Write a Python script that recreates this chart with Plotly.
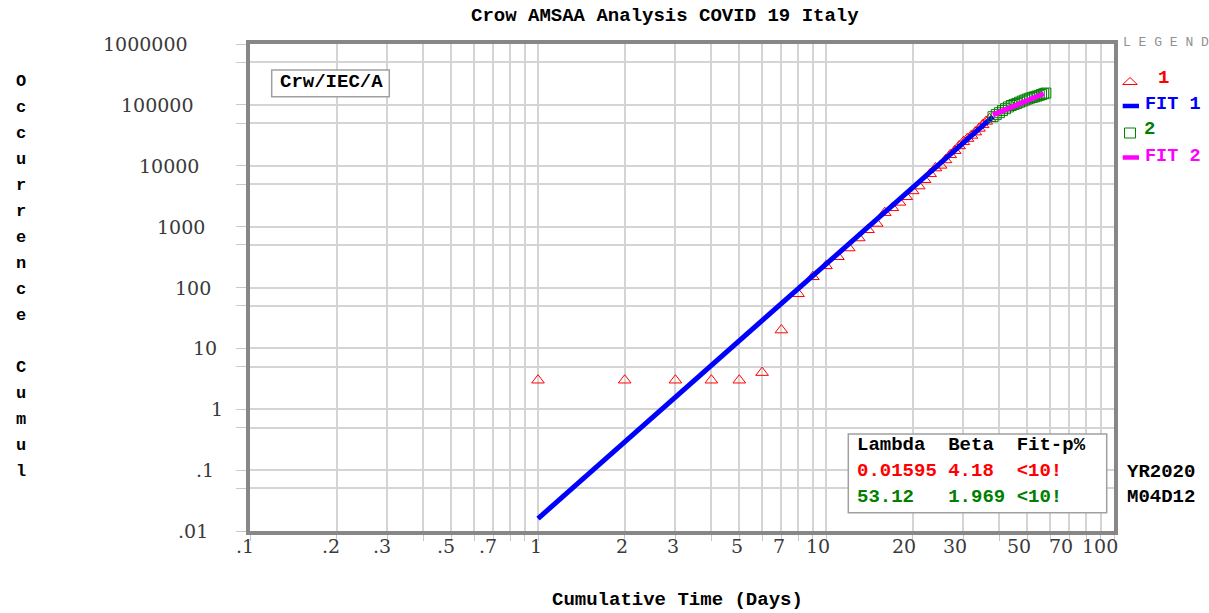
import plotly.graph_objects as go
import math

# ---------------- data ----------------
days1 = list(range(1, 38))
cum1 = [3, 3, 3, 3, 3, 4, 20, 79, 150, 227, 320, 445, 650, 888, 1128, 1694, 2036,
        2502, 3089, 3858, 4636, 5883, 7375, 9172, 10149, 12462, 15113, 17660,
        21157, 24747, 27980, 31506, 35713, 41035, 47021, 53578, 59138]
days2 = list(range(38, 59))
cum2 = [63927, 69176, 74386, 80589, 86498, 92472, 97689, 101739, 105792, 110574,
        115242, 119827, 124632, 128948, 132547, 135586, 139422, 143626, 147577,
        152271, 156363]
fit1_x = [1, 38]
fit1_y = [0.016, 64000]
fit2_x = [38, 57]
fit2_y = [68500, 152000]

x_tick_vals = [0.1, 0.2, 0.3, 0.5, 0.7, 1, 2, 3, 5, 7, 10, 20, 30, 50, 70, 100]
x_tick_labels = [".1", ".2", ".3", ".5", ".7", "1", "2", "3", "5", "7", "10", "20", "30", "50", "70", "100"]
y_tick_vals = [0.01, 0.1, 1, 10, 100, 1000, 10000, 100000, 1000000]
y_tick_labels = [".01", ".1", "1", "10", "100", "1000", "10000", "100000", "1000000"]
x_grid = [m * 10.0 ** e for e in (-1, 0, 1) for m in range(1, 10)] + [100]
y_grid = [m * 10.0 ** e for e in range(-2, 6) for m in (1, 5)] + [1e6]

table_rows = [("Lambda\u00a0\u00a0Beta\u00a0\u00a0Fit-p%", "#000000"),
              ("0.01595\u00a04.18\u00a0\u00a0<10!", "#ff0000"),
              ("53.12\u00a0\u00a0\u00a01.969\u00a0<10!", "#008000")]

MONO = "Liberation Mono, Courier New, monospace"
SERIF = "DejaVu Serif, serif"

L, R, T, B = 250, 95, 44, 82
W, H = 1209, 613
PW, PH = W - L - R, H - T - B


def px(x):
    return (x - L) / PW


def py(y):
    return (H - B - y) / PH


fig = go.Figure()
fig.add_trace(go.Scatter(x=days1, y=cum1, mode="markers", name="1",
                         marker=dict(symbol="triangle-up-open", size=11, color="#ff0000",
                                     line=dict(width=1, color="#ff0000"))))
fig.add_trace(go.Scatter(x=fit1_x, y=fit1_y, mode="lines", name="FIT 1",
                         line=dict(color="#0000ff", width=5)))
fig.add_trace(go.Scatter(x=days2, y=cum2, mode="markers", name="2",
                         marker=dict(symbol="square-open", size=10, color="#008000",
                                     line=dict(width=1, color="#008000"))))
fig.add_trace(go.Scatter(x=fit2_x, y=fit2_y, mode="lines", name="FIT 2",
                         line=dict(color="#ff00ff", width=5)))

ann = []
shapes = []


def note(**kw):
    kw.setdefault("showarrow", False)
    kw.setdefault("borderpad", 0)
    ann.append(kw)


# title
note(text="<b>Crow AMSAA Analysis COVID 19 Italy</b>", x=px(665), y=py(16),
     xref="paper", yref="paper", xanchor="center", yanchor="middle",
     font=dict(family=MONO, size=19, color="#000"))
# x axis title
note(text="<b>Cumulative Time (Days)</b>", x=px(677), y=py(600),
     xref="paper", yref="paper", xanchor="center", yanchor="middle",
     font=dict(family=MONO, size=19, color="#000"))
# y axis title (stacked letters)
for i, ch in enumerate("Occurrence Cumul"):
    if ch == " ":
        continue
    note(text="<b>%s</b>" % ch, x=px(21), y=py(81.7 + 26 * i),
         xref="paper", yref="paper", xanchor="center", yanchor="middle",
         font=dict(family=MONO, size=17, color="#000"))
# y tick labels
for v, lab in zip(y_tick_vals, y_tick_labels):
    note(text=lab, x=px(229 - 12 * len(lab)), y=math.log10(v),
         xref="paper", yref="y", xanchor="center", yanchor="middle",
         font=dict(family=SERIF, size=19, color="#3a3a3a"))
# x tick labels
for v, lab in zip(x_tick_vals, x_tick_labels):
    note(text=lab, x=math.log10(v), y=0, xref="x", yref="paper",
         xanchor="right", yanchor="middle", xshift=4.5, yshift=-15,
         font=dict(family=SERIF, size=19, color="#3a3a3a"))

# Crw/IEC/A box
shapes.append(dict(type="rect", xref="paper", yref="paper", x0=px(271.7), x1=px(389.3),
                   y0=py(70), y1=py(96.7), line=dict(color="#a0a0a0", width=1.5),
                   fillcolor="white", layer="above"))
note(text="<b>Crw/IEC/A</b>", x=px(279), y=py(82), xref="paper", yref="paper",
     xanchor="left", yanchor="middle",
     font=dict(family=MONO, size=19, color="#000"))

# parameter table
shapes.append(dict(type="rect", xref="paper", yref="paper", x0=px(848.3), x1=px(1106.7),
                   y0=py(434), y1=py(512.7), line=dict(color="#a0a0a0", width=1.5),
                   fillcolor="white", layer="above"))
for (txt, col), yy in zip(table_rows, (445, 470.7, 496.7)):
    note(text="<b>%s</b>" % txt, x=px(856), y=py(yy), xref="paper", yref="paper",
         xanchor="left", yanchor="middle",
         font=dict(family=MONO, size=19, color=col))
for txt, yy in (("YR2020", 472), ("M04D12", 497)):
    note(text="<b>%s</b>" % txt, x=px(1126), y=py(yy), xref="paper", yref="paper",
         xanchor="left", yanchor="middle",
         font=dict(family=MONO, size=19, color="#000"))

# legend
note(text="L\u00a0E\u00a0G\u00a0E\u00a0N\u00a0D", x=px(1166), y=py(42),
     xref="paper", yref="paper", xanchor="center", yanchor="middle",
     font=dict(family=MONO, size=13, color="#909090"))
shapes.append(dict(type="path", xref="paper", yref="paper",
                   path="M %f,%f L %f,%f L %f,%f Z" % (px(1130), py(77.5), px(1122.7), py(84.5),
                                                      px(1137.3), py(84.5)),
                   line=dict(color="#ff0000", width=1)))
shapes.append(dict(type="line", xref="paper", yref="paper", x0=px(1122.7), x1=px(1139),
                   y0=py(106), y1=py(106), line=dict(color="#0000ff", width=4.5)))
shapes.append(dict(type="rect", xref="paper", yref="paper", x0=px(1124.5), x1=px(1135.5),
                   y0=py(128), y1=py(138), line=dict(color="#008000", width=1)))
shapes.append(dict(type="line", xref="paper", yref="paper", x0=px(1122.7), x1=px(1139),
                   y0=py(157.5), y1=py(157.5), line=dict(color="#ff00ff", width=4.5)))
for txt, col, xl, yy, sz in (("1", "#ff0000", 1156.5, 77.5, 19),
                             ("FIT 1", "#0000ff", 1144, 104, 18.5),
                             ("2", "#008000", 1142.5, 129, 19),
                             ("FIT 2", "#ff00ff", 1144, 156, 18.5)):
    note(text="<b>%s</b>" % txt, x=px(xl), y=py(yy), xref="paper", yref="paper",
         xanchor="left", yanchor="middle",
         font=dict(family=MONO, size=sz, color=col))

fig.update_layout(
    width=W, height=H, margin=dict(l=L, r=R, t=T, b=B),
    paper_bgcolor="white", plot_bgcolor="white", showlegend=False,
    xaxis=dict(type="log", range=[-1, 2], tickvals=x_grid, showticklabels=False,
               ticks="outside", ticklen=6, tickcolor="#c8c8c8", tickwidth=1,
               showgrid=True, gridcolor="#d4d4d4", gridwidth=2,
               showline=True, linecolor="#878787", linewidth=3.5, mirror=True),
    yaxis=dict(type="log", range=[-2, 6], tickvals=y_grid, showticklabels=False,
               ticks="outside", ticklen=10, tickcolor="#c8c8c8", tickwidth=1,
               showgrid=True, gridcolor="#d4d4d4", gridwidth=2,
               showline=True, linecolor="#878787", linewidth=3.5, mirror=True),
    annotations=ann, shapes=shapes,
)

fig.write_html("out.html", config={"displayModeBar": False},
               post_script="document.body.style.margin='0';document.body.style.overflow='hidden';")
